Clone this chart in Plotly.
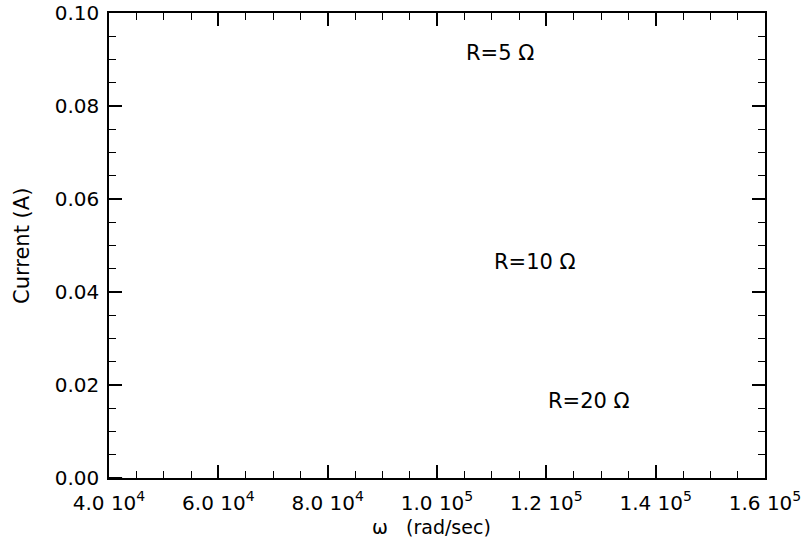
import plotly.graph_objects as go

# Axis ticks
x_major = [40000, 60000, 80000, 100000, 120000, 140000, 160000]
x_labels = ["4.0 10<sup>4</sup>", "6.0 10<sup>4</sup>", "8.0 10<sup>4</sup>",
            "1.0 10<sup>5</sup>", "1.2 10<sup>5</sup>", "1.4 10<sup>5</sup>",
            "1.6 10<sup>5</sup>"]
y_major = [0.00, 0.02, 0.04, 0.06, 0.08, 0.10]
y_labels = ["0.00", "0.02", "0.04", "0.06", "0.08", "0.10"]

x_title = "ω   (rad/sec)"
y_title = "Current (A)"

# Curve fragment visible along the bottom axis
curve_x = [40000, 42400]
curve_y = [0.0, 0.0]

# Annotations (resistance labels)
label_text = ["R=5 Ω", "R=10 Ω", "R=20 Ω"]
label_x = [105000, 110000, 120000]
label_y = [0.0915, 0.0465, 0.0165]

font_family = "DejaVu Sans"

fig = go.Figure()
fig.add_trace(go.Scatter(x=curve_x, y=curve_y, mode="lines",
                         line=dict(color="black", width=2), showlegend=False,
                         hoverinfo="skip"))

for t, x, y in zip(label_text, label_x, label_y):
    fig.add_annotation(x=x, y=y, text=t, showarrow=False, xanchor="left",
                       yanchor="middle",
                       font=dict(family=font_family, size=21, color="black"))

# Axis titles placed as annotations for exact positioning
fig.add_annotation(x=0.492, y=-0.105, xref="paper", yref="paper", text=x_title,
                   showarrow=False, xanchor="center", yanchor="middle",
                   font=dict(family=font_family, size=19, color="black"))
fig.add_annotation(x=-0.1326, y=0.499, xref="paper", yref="paper", text=y_title,
                   showarrow=False, xanchor="center", yanchor="middle",
                   textangle=-90,
                   font=dict(family=font_family, size=21, color="black"))

axis_common = dict(
    showgrid=False, zeroline=False, showline=True, linecolor="black",
    linewidth=1.5, mirror="ticks", ticks="inside", ticklen=13, tickwidth=1.5,
    tickcolor="black", automargin=False, ticklabeloverflow="allow",
    tickfont=dict(family=font_family, size=20, color="black"),
)

fig.update_xaxes(
    range=[40000, 160000.001], tickmode="array", tickvals=x_major,
    ticktext=x_labels,
    minor=dict(dtick=5000, ticks="inside", ticklen=7, tickwidth=1.2,
               tickcolor="black"),
    ticklabelstandoff=6,
    **axis_common,
)
fig.update_yaxes(
    range=[0, 0.1000001], tickmode="array", tickvals=y_major, ticktext=y_labels,
    minor=dict(dtick=0.005, ticks="inside", ticklen=7, tickwidth=1.2,
               tickcolor="black"),
    ticklabelstandoff=4,
    **axis_common,
)

fig.update_layout(
    width=811, height=545,
    margin=dict(l=109, r=46, t=13, b=67, autoexpand=False),
    paper_bgcolor="white", plot_bgcolor="white",
    showlegend=False,
)

fig.write_html("out.html", config={"displayModeBar": False},
               post_script="document.body.style.margin='0';")
